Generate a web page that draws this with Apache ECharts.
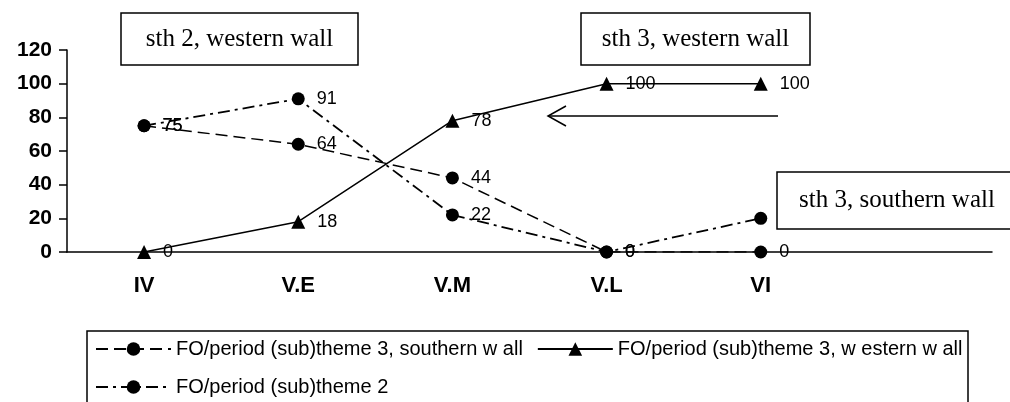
<!DOCTYPE html>
<html>
<head>
<meta charset="utf-8">
<script src="https://cdn.jsdelivr.net/npm/echarts@6/dist/echarts.min.js"></script>
<style>
  html, body { margin: 0; padding: 0; background: #fff; }
  #chart { width: 1010px; height: 402px; }
</style>
</head>
<body>
<div id="chart"></div>
<script>
// periods on the x axis (last slot is empty, as in the original)
const periods = ['IV', 'V.E', 'V.M', 'V.L', 'VI', ''];

// FO per period
const southernWall = [75, 64, 44, 0, 0];
const westernWall = [0, 18, 78, 100, 100];
const theme2 = [75, 91, 22, 0, 20];

const seriesNames = [
  'FO/period (sub)theme 3, southern w all',
  'FO/period (sub)theme 3, w estern w all',
  'FO/period (sub)theme 2'
];

const boxNotes = ['sth 2, western wall', 'sth 3, western wall', 'sth 3, southern wall'];

const chart = echarts.init(document.getElementById('chart'));

const labelStyle = {
  show: true,
  position: 'right',
  distance: 12,
  color: '#000',
  fontFamily: 'Liberation Sans, Arial, sans-serif',
  fontSize: 18
};

const noteBox = (x, y, w, h, text) => ({
  type: 'group',
  z: 100,
  children: [
    {
      type: 'rect',
      z: 100,
      shape: { x: x, y: y, width: w, height: h },
      style: { fill: '#fff', stroke: '#000', lineWidth: 1.5 }
    },
    {
      type: 'text',
      z: 101,
      style: {
        x: x + w / 2,
        y: y + h / 2,
        text: text,
        align: 'center',
        verticalAlign: 'middle',
        fill: '#000',
        font: '25px "Liberation Serif", "Times New Roman", serif'
      }
    }
  ]
});

const option = {
  animation: false,
  backgroundColor: '#fff',
  grid: { left: 67, right: 18, top: 50, bottom: 150 },
  xAxis: {
    type: 'category',
    data: periods,
    boundaryGap: true,
    axisLine: { lineStyle: { color: '#000', width: 1.5 } },
    axisTick: { length: 7, lineStyle: { color: '#000', width: 1.5 } },
    axisLabel: {
      color: '#000',
      fontWeight: 'bold',
      fontSize: 22,
      fontFamily: 'Liberation Sans, Arial, sans-serif',
      margin: 23
    },
    splitLine: { show: false }
  },
  yAxis: {
    type: 'value',
    min: 0,
    max: 120,
    interval: 20,
    axisLine: { show: true, lineStyle: { color: '#000', width: 1.5 } },
    axisTick: { show: true, length: 8, lineStyle: { color: '#000', width: 1.5 } },
    axisLabel: {
      color: '#000',
      fontWeight: 'bold',
      fontSize: 21,
      fontFamily: 'Liberation Sans, Arial, sans-serif',
      margin: 15
    },
    splitLine: { show: false }
  },
  legend: {
    left: 95,
    top: 337,
    width: 880,
    padding: 0,
    itemWidth: 75,
    itemHeight: 17,
    itemGap: 14,
    selectedMode: false,
    textStyle: {
      color: '#000',
      fontSize: 20,
      lineHeight: 24,
      fontFamily: 'Liberation Sans, Arial, sans-serif'
    },
    data: seriesNames
  },
  series: [
    {
      name: seriesNames[0],
      type: 'line',
      data: southernWall,
      symbol: 'circle',
      symbolSize: 13,
      itemStyle: { color: '#000' },
      lineStyle: { color: '#000', width: 1.5, type: [12, 6] },
      label: labelStyle
    },
    {
      name: seriesNames[1],
      type: 'line',
      data: westernWall,
      symbol: 'triangle',
      symbolSize: 14,
      itemStyle: { color: '#000' },
      lineStyle: { color: '#000', width: 1.5, type: 'solid' },
      label: labelStyle
    },
    {
      name: seriesNames[2],
      type: 'line',
      data: theme2,
      symbol: 'circle',
      symbolSize: 13,
      itemStyle: { color: '#000' },
      lineStyle: { color: '#000', width: 1.8, type: [12, 5, 3, 5] },
      label: labelStyle
    }
  ],
  graphic: [
    noteBox(121, 13, 237, 52, boxNotes[0]),
    noteBox(581, 13, 229, 52, boxNotes[1]),
    noteBox(777, 172, 240, 57, boxNotes[2]),
    // arrow pointing left under the "sth 3, western wall" box
    {
      type: 'polyline',
      z: 100,
      shape: { points: [[778, 116], [548, 116]] },
      style: { stroke: '#000', lineWidth: 1.5, fill: null }
    },
    {
      type: 'polyline',
      z: 100,
      shape: { points: [[566, 106], [548, 116], [566, 126]] },
      style: { stroke: '#000', lineWidth: 1.5, fill: null }
    },
    // legend frame
    {
      type: 'rect',
      z: 1,
      shape: { x: 87, y: 331, width: 881, height: 80 },
      style: { fill: null, stroke: '#000', lineWidth: 1.5 }
    }
  ]
};

chart.setOption(option);
</script>
</body>
</html>
